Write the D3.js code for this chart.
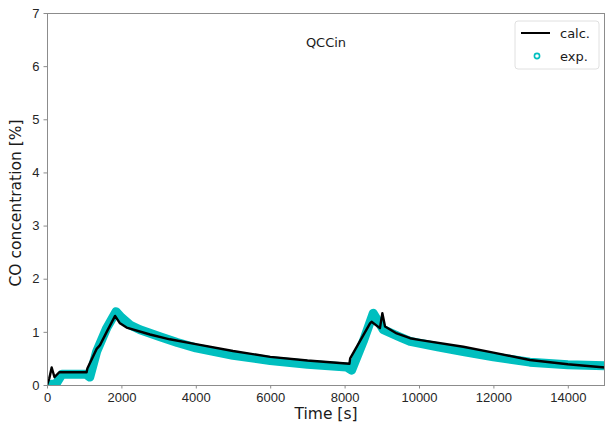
<!DOCTYPE html>
<html>
<head>
<meta charset="utf-8">
<script src="https://cdn.jsdelivr.net/npm/d3@7"></script>
<style>
body { margin: 0; background: #fff; }
svg { display: block; font-family: 'DejaVu Sans', sans-serif; }
.axis path, .axis line { stroke: #8c8c8c; }
.axis text { fill: #262626; font-size: 13px; }
</style>
</head>
<body>
<script>
// data
var expTime = [0, 250, 400, 1050, 1150, 1335, 1604, 1855, 2000, 2231, 2500, 3038, 3500, 4000, 5000, 6000, 7000, 8050, 8190, 8500, 8770, 9040, 9490, 9760, 10500, 11190, 12000, 12980, 14000, 15000];
var expConc = [0.0, 0.03, 0.2, 0.2, 0.15, 0.63, 1.07, 1.38, 1.27, 1.13, 1.04, 0.91, 0.8, 0.7, 0.56, 0.46, 0.39, 0.34, 0.28, 0.82, 1.35, 1.04, 0.9, 0.82, 0.72, 0.63, 0.53, 0.43, 0.38, 0.36];

var calcTime = [0, 60, 126, 200, 330, 1065, 1085, 1335, 1425, 1605, 1830, 1962, 2140, 2770, 3300, 4000, 5000, 6000, 7000, 8130, 8150, 8683, 8725, 8950, 9015, 9087, 9400, 9760, 10000, 11190, 12000, 12980, 14000, 15000];
var calcConc = [0, 0.12, 0.33, 0.15, 0.24, 0.24, 0.31, 0.68, 0.75, 1.0, 1.3, 1.16, 1.08, 0.95, 0.86, 0.77, 0.64, 0.53, 0.46, 0.4, 0.5, 1.16, 1.19, 1.07, 1.35, 1.1, 0.97, 0.88, 0.85, 0.72, 0.61, 0.47, 0.39, 0.33];

var xTicks = [0, 2000, 4000, 6000, 8000, 10000, 12000, 14000];
var yTicks = [0, 1, 2, 3, 4, 5, 6, 7];

var margin = { top: 13, right: 0, bottom: 40, left: 47 };
var width = 605 - margin.left - margin.right;
var height = 425 - margin.top - margin.bottom; // 372

var svg = d3.select('body')
	.append('svg')
	.attr('width', 605)
	.attr('height', 425)
	.append('g')
	.attr('transform', 'translate(' + margin.left + ',' + margin.top + ')');

svg.append('defs')
	.append('clipPath')
	.attr('id', 'clip')
	.append('rect')
	.attr('width', width)
	.attr('height', height);

var x = d3.scaleLinear().domain([0, 15000]).range([0, width]);
var y = d3.scaleLinear().domain([0, 7]).range([height, 0]);

var expData = expTime.map(function (t, i) { return { t: t, v: expConc[i] }; });
var calcData = calcTime.map(function (t, i) { return { t: t, v: calcConc[i] }; });

// exp band (dense markers)
svg.append('path')
	.datum(expData)
	.attr('clip-path', 'url(#clip)')
	.attr('fill', 'none')
	.attr('stroke', '#00bfbf')
	.attr('stroke-width', 9)
	.attr('stroke-linecap', 'round')
	.attr('stroke-linejoin', 'round')
	.attr('d', d3.line()
		.x(function (d) { return x(d.t); })
		.y(function (d) { return y(d.v); }));

// calc line
svg.append('path')
	.datum(calcData)
	.attr('clip-path', 'url(#clip)')
	.attr('fill', 'none')
	.attr('stroke', '#000')
	.attr('stroke-width', 2.4)
	.attr('stroke-linejoin', 'round')
	.attr('d', d3.line()
		.x(function (d) { return x(d.t); })
		.y(function (d) { return y(d.v); }));

// axes
svg.append('g')
	.attr('class', 'x axis')
	.attr('transform', 'translate(0,' + height + ')')
	.call(d3.axisBottom(x).tickValues(xTicks).tickSize(3.5).tickSizeOuter(0).tickPadding(4).tickFormat(d3.format('d')));
svg.append('g')
	.attr('class', 'y axis')
	.call(d3.axisLeft(y).tickValues(yTicks).tickSize(3.5).tickSizeOuter(0).tickPadding(4).tickFormat(d3.format('d')));
svg.append('line')
	.attr('x1', 0).attr('x2', width).attr('y1', 0.5).attr('y2', 0.5)
	.attr('stroke', '#8c8c8c');
svg.append('line')
	.attr('x1', width - 0.5).attr('x2', width - 0.5).attr('y1', 0).attr('y2', height)
	.attr('stroke', '#8c8c8c');

// labels
svg.append('text')
	.attr('x', width / 2)
	.attr('y', height + 34)
	.attr('text-anchor', 'middle')
	.attr('font-size', 15.5)
	.attr('fill', '#1a1a1a')
	.text('Time [s]');
svg.append('text')
	.attr('transform', 'translate(' + (-26) + ',' + (height / 2 + 4) + ') rotate(-90)')
	.attr('text-anchor', 'middle')
	.attr('font-size', 15.5)
	.attr('fill', '#1a1a1a')
	.text('CO concentration [%]');
svg.append('text')
	.attr('x', x(7500))
	.attr('y', 34)
	.attr('text-anchor', 'middle')
	.attr('font-size', 13)
	.attr('fill', '#1a1a1a')
	.text('QCCin');

// legend
var lg = svg.append('g').attr('transform', 'translate(' + (515 - margin.left) + ',' + (21 - margin.top) + ')');
lg.append('rect')
	.attr('width', 84).attr('height', 48).attr('rx', 3)
	.attr('fill', '#fff').attr('stroke', '#e0e0e0');
lg.append('line')
	.attr('x1', 6).attr('x2', 35).attr('y1', 12).attr('y2', 12)
	.attr('stroke', '#000').attr('stroke-width', 2);
lg.append('circle')
	.attr('cx', 22).attr('cy', 35).attr('r', 2.6)
	.attr('fill', 'none').attr('stroke', '#00bfbf').attr('stroke-width', 1.6);
lg.append('text').attr('x', 45).attr('y', 17).attr('font-size', 13).attr('fill', '#1a1a1a').text('calc.');
lg.append('text').attr('x', 45).attr('y', 40).attr('font-size', 13).attr('fill', '#1a1a1a').text('exp.');
</script>
</body>
</html>
